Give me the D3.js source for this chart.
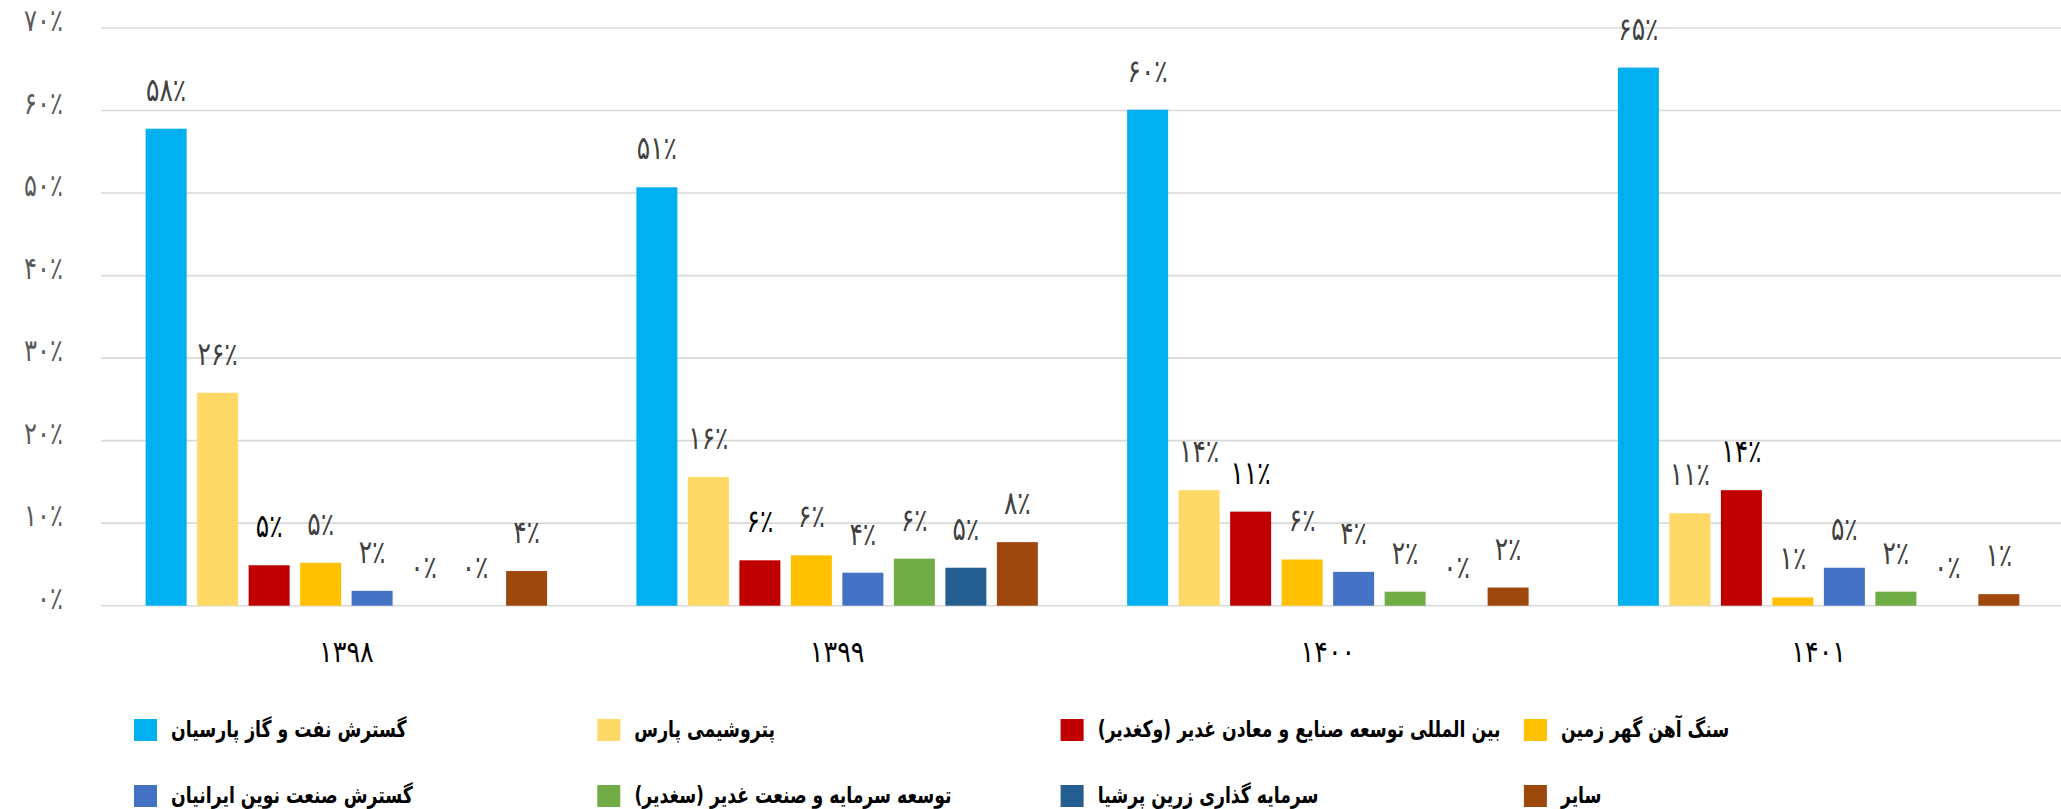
<!DOCTYPE html>
<html><head><meta charset="utf-8">
<script src="https://cdn.jsdelivr.net/npm/d3@7"></script>
<style>
html,body{margin:0;padding:0;background:#fff;}
svg{display:block;}
</style></head>
<body>
<svg id="chart" width="2061" height="809"></svg>
<script>
// ---- data ----
const years = ['۱۳۹۸','۱۳۹۹','۱۴۰۰','۱۴۰۱'];
const seriesNames = [
  'گسترش نفت و گاز پارسیان',
  'پتروشیمی پارس',
  'بین المللی توسعه صنایع و معادن غدیر (وکغدیر)',
  'سنگ آهن گهر زمین',
  'گسترش صنعت نوین ایرانیان',
  'توسعه سرمایه و صنعت غدیر (سغدیر)',
  'سرمایه گذاری زرین پرشیا',
  'سایر'
];
const parsianOilGas   = [57.8, 50.7, 60.1, 65.2];
const parsPetro       = [25.8, 15.6, 14.0, 11.2];
const ghadirMining    = [4.9, 5.5, 11.4, 14.0];
const goharZamin      = [5.2, 6.1, 5.6, 1.0];
const novinIranian    = [1.8, 4.0, 4.1, 4.6];
const ghadirInvest    = [0, 5.7, 1.7, 1.7];
const zarinPersia     = [0, 4.6, 0, 0];
const others          = [4.2, 7.7, 2.2, 1.4];
const seriesValues = [parsianOilGas, parsPetro, ghadirMining, goharZamin, novinIranian, ghadirInvest, zarinPersia, others];
const yTicks = [0, 10, 20, 30, 40, 50, 60, 70];

// ---- styles ----
const colors = ['#00B0F0','#FFD966','#C00000','#FFC000','#4472C4','#70AD47','#255E91','#9E480E'];
const labelColors = ['#404040','#404040','#000000','#404040','#404040','#404040','#404040','#404040'];
const FONT = "'DejaVu Sans', sans-serif";

const toFa = s => String(s).replace(/\d/g, d => '۰۱۲۳۴۵۶۷۸۹'[d]);
const pct = v => toFa(Math.round(v)) + '٪';

const svg = d3.select('#chart');

const x0 = d3.scaleBand().domain(years).range([101, 2064]).paddingInner(0).paddingOuter(0);
const x1 = d3.scaleBand().domain(d3.range(seriesNames.length)).range([0, x0.bandwidth()])
  .paddingInner(0.204).paddingOuter(0.867);
const y = d3.scaleLinear().domain([0, 70]).range([605.7, 28]);

// gridlines
svg.append('g').selectAll('line').data(yTicks).join('line')
  .attr('x1', 101).attr('x2', 2061)
  .attr('y1', d => y(d)).attr('y2', d => y(d))
  .attr('stroke', '#D9D9D9').attr('stroke-width', 1.6);

// y tick labels
svg.append('g').selectAll('text').data(yTicks).join('text')
  .attr('transform', d => `translate(63,${y(d) + 3}) scale(0.78,1)`)
  .attr('text-anchor', 'end')
  .attr('font-family', FONT).attr('font-size', 31).attr('fill', '#595959')
  .text(d => pct(d));

// bars
const flat = [];
years.forEach((yr, i) => seriesValues.forEach((arr, s) => flat.push({yr, s, v: arr[i]})));

svg.append('g').selectAll('rect').data(flat).join('rect')
  .attr('x', d => x0(d.yr) + x1(d.s))
  .attr('width', x1.bandwidth())
  .attr('y', d => y(d.v))
  .attr('height', d => y(0) - y(d.v))
  .attr('fill', d => colors[d.s]);

// data labels
svg.append('g').selectAll('text').data(flat).join('text')
  .attr('transform', d => `translate(${x0(d.yr) + x1(d.s) + x1.bandwidth() / 2},${y(d.v) - 28}) scale(0.78,1)`)
  .attr('text-anchor', 'middle')
  .attr('font-family', FONT).attr('font-size', 32)
  .attr('fill', d => labelColors[d.s])
  .text(d => pct(d.v));

// x labels
svg.append('g').selectAll('text').data(years).join('text')
  .attr('transform', d => `translate(${x0(d) + x0.bandwidth() / 2},662) scale(0.85,1)`)
  .attr('text-anchor', 'middle')
  .attr('font-family', FONT).attr('font-size', 30).attr('fill', '#000')
  .text(d => d);

// legend
const legCol = [134, 597.3, 1060.6, 1523.9];
const legRow = [719, 785];
const leg = svg.append('g');
seriesNames.forEach((name, i) => {
  const cx = legCol[i % 4], ry = legRow[Math.floor(i / 4)];
  leg.append('rect').attr('x', cx).attr('y', ry).attr('width', 23).attr('height', 22).attr('fill', colors[i]);
  const t = leg.append('text')
    .attr('direction', 'rtl')
    .attr('text-anchor', 'middle')
    .attr('font-family', FONT).attr('font-size', 23).attr('font-weight', 'bold').attr('fill', '#000')
    .text(name);
  const w = t.node().getComputedTextLength();
  t.attr('x', w / 2).attr('transform', `translate(${cx + 23 + 14},${ry + 18}) scale(0.75,1)`);
});
</script>
</body></html>
